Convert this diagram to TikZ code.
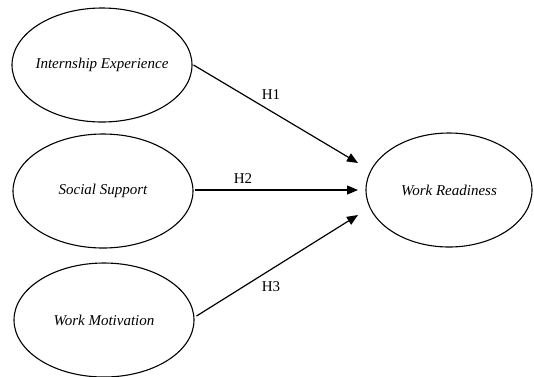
\documentclass[tikz,border=0pt]{standalone}
\usepackage{fontspec}
\setmainfont{Liberation Serif}
\usetikzlibrary{shapes.geometric,arrows.meta}
\newcommand{\ztxt}[1]{\makebox[0pt]{#1}}
\begin{document}
\begin{tikzpicture}[x=1pt,y=-1pt,
  construct/.style={draw,ellipse,line width=1.1pt,inner sep=0pt,
    minimum width=180pt,minimum height=114pt,
    font=\fontsize{15}{17}\selectfont\itshape},
  path/.style={line width=1.2pt,-{Triangle[length=11pt,width=9pt]}},
  hlabel/.style={font=\fontsize{15}{17}\selectfont}]
\useasboundingbox (0,0) rectangle (534,376);
\node[construct] (ie) at (102,65) {\ztxt{Internship Experience}};
\node[construct] (ss) at (103,191) {\ztxt{Social Support}};
\node[construct] (wm) at (104,320) {\ztxt{Work Motivation}};
\node[construct,minimum width=166pt] (wr) at (449,190) {\ztxt{Work Readiness}};
\coordinate (t1) at (358,163);
\coordinate (t2) at (358,190);
\coordinate (t3) at (358,215);
\draw[path] (ie.east) ++(1,0) -- (t1);
\draw[path] (ss.east) ++(1,-1) -- (t2);
\draw[path] (wm.east) ++(2,-4) -- (t3);
\node[hlabel] (h1) at (271,95) {H1};
\node[hlabel] (h2) at (243,179) {H2};
\node[hlabel] (h3) at (271,287) {H3};
\end{tikzpicture}
\end{document}
